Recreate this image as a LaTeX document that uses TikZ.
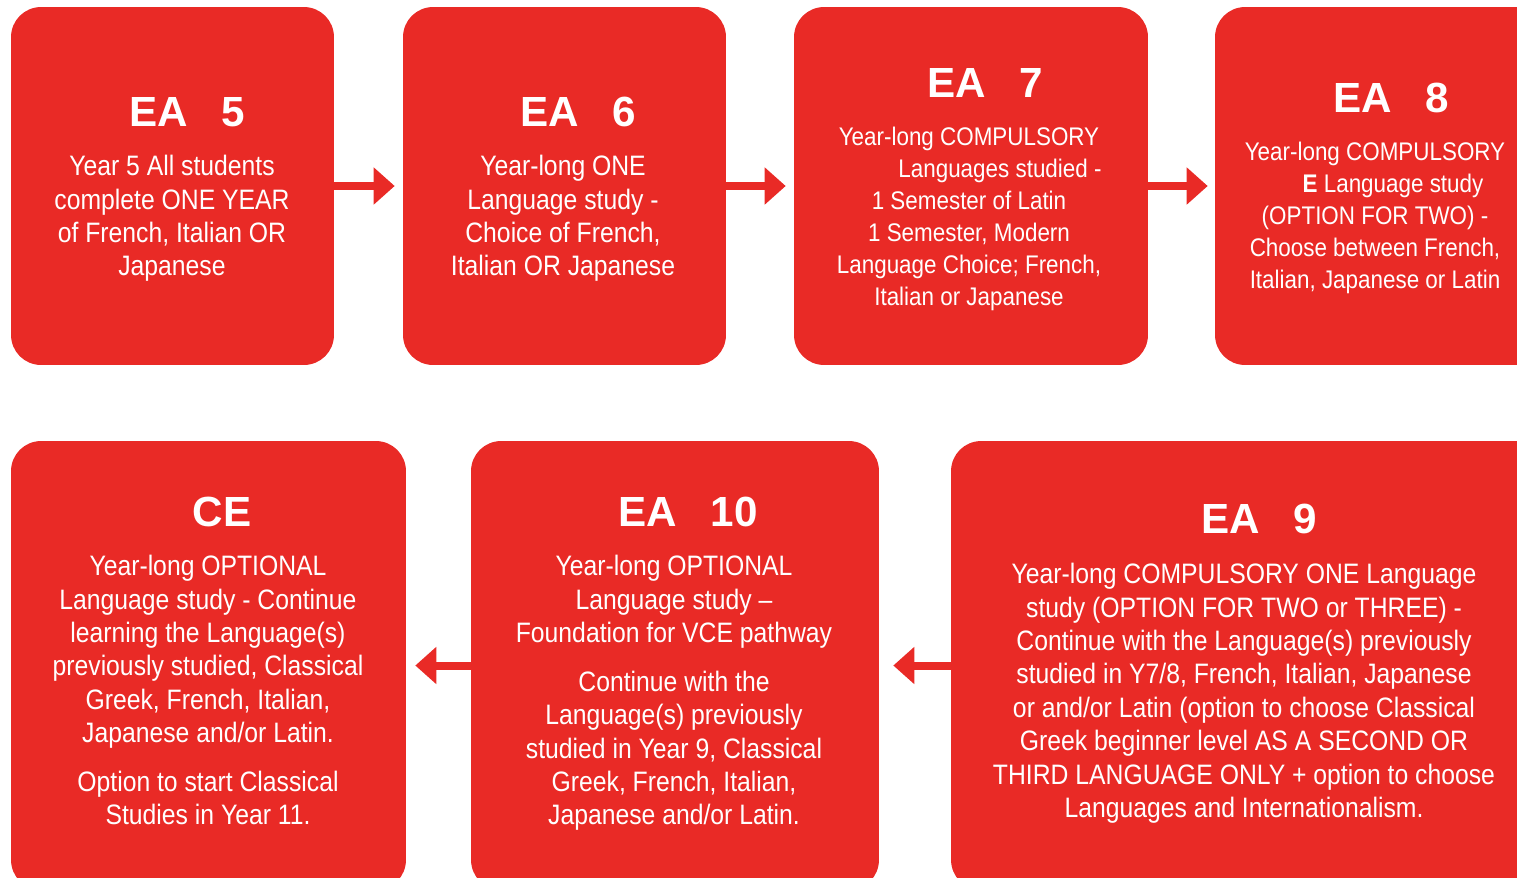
\documentclass[tikz,border=0pt]{standalone}
\usepackage{fontspec}
\setmainfont{Liberation Sans}[FakeStretch=0.88]
\newfontfamily\headfont{Liberation Sans}
\usetikzlibrary{arrows.meta}
\definecolor{planred}{RGB}{233,42,38}

\begin{document}
\begin{tikzpicture}[x=0.02cm, y=-0.02cm,
    yearbox/.style={fill=planred, rounded corners=0.6cm, inner sep=0pt},
    yeartitle/.style={text=white, inner sep=0pt, font=\headfont\fontsize{24}{28}\selectfont\bfseries},
    yeartext/.style={text=white, inner sep=0pt, align=center, anchor=north, font=\fontsize{16}{19}\selectfont},
    smalltext/.style={yeartext, font=\fontsize{14.5}{18.2}\selectfont},
    nextarrow/.style={draw=planred, line width=0.16cm, -{Triangle[width=0.72cm, length=0.42cm]}}]
                \useasboundingbox (0,0) rectangle (1517,877);
                \clip (0,0) rectangle (1517,877);

                %%top row
                \node[yearbox, minimum width=6.46cm, minimum height=7.16cm] (y5) at (172.5,186) {};
                \node[yearbox, minimum width=6.46cm, minimum height=7.16cm] (y6) at (564.5,186) {};
                \node[yearbox, minimum width=7.08cm, minimum height=7.16cm] (y7) at (971,186) {};
                \node[yearbox, minimum width=7.3cm, minimum height=7.16cm] (y8) at (1397.5,186) {};

                %%bottom row
                \node[yearbox, minimum width=7.9cm, minimum height=8.98cm] (vce) at (208.5,665.5) {};
                \node[yearbox, minimum width=8.16cm, minimum height=8.98cm] (y10) at (675,665.5) {};
                \node[yearbox, minimum width=12.58cm, minimum height=8.98cm] (y9) at (1265.5,665.5) {};

                %%titles
                \node[yeartitle] (t5) at (187,112) {EA\hspace{0.8em}5};
                \node[yeartitle] (t6) at (578,112) {EA\hspace{0.8em}6};
                \node[yeartitle] (t7) at (985,83) {EA\hspace{0.8em}7};
                \node[yeartitle] (t8) at (1391,98) {EA\hspace{0.8em}8};
                \node[yeartitle] (tce) at (222,512) {CE};
                \node[yeartitle] (t10) at (688,512) {EA\hspace{0.8em}10};
                \node[yeartitle] (t9) at (1259,519) {EA\hspace{0.8em}9};

                %%texts
                \node[yeartext] (b5) at (172,155) {Year 5 All students\\complete ONE YEAR\\of French, Italian OR\\Japanese};
                \node[yeartext] (b6) at (563,155) {Year-long ONE\\Language study -\\Choice of French,\\Italian OR Japanese};
                \node[smalltext] (b7) at (969,127) {Year-long COMPULSORY\\\hspace*{1.24cm}Languages studied -\\1 Semester of Latin\\1 Semester, Modern\\Language Choice; French,\\Italian or Japanese};
                \node[smalltext] (b8) at (1375,142) {Year-long COMPULSORY\\\hspace*{0.72cm}\textbf{E} Language study\\(OPTION FOR TWO) -\\Choose between French,\\Italian, Japanese or Latin};
                \node[yeartext] (bce) at (208,555) {Year-long OPTIONAL\\Language study - Continue\\learning the Language(s)\\previously studied, Classical\\Greek, French, Italian,\\Japanese and/or Latin.\\[8.8pt]Option to start Classical\\Studies in Year 11.};
                \node[yeartext] (b10) at (674,555) {Year-long OPTIONAL\\Language study --\\Foundation for VCE pathway\\[8.8pt]Continue with the\\Language(s) previously\\studied in Year 9, Classical\\Greek, French, Italian,\\Japanese and/or Latin.};
                \node[yeartext] (b9) at (1244,563) {Year-long COMPULSORY ONE Language\\study (OPTION FOR TWO or THREE) -\\Continue with the Language(s) previously\\studied in Y7/8, French, Italian, Japanese\\or and/or Latin (option to choose Classical\\Greek beginner level AS A SECOND OR\\THIRD LANGUAGE ONLY + option to choose\\Languages and Internationalism.};

                %%arrows
                \draw[nextarrow, shorten >=0.16cm] (y5) -- (y6);
                \draw[nextarrow, shorten >=0.16cm] (y6) -- (y7);
                \draw[nextarrow, shorten >=0.14cm] (y7) -- (y8);
                \draw[nextarrow, shorten >=0.28cm] (y9) -- (y10);
                \draw[nextarrow, shorten >=0.18cm] (y10) -- (vce);
            \end{tikzpicture}
\end{document}
